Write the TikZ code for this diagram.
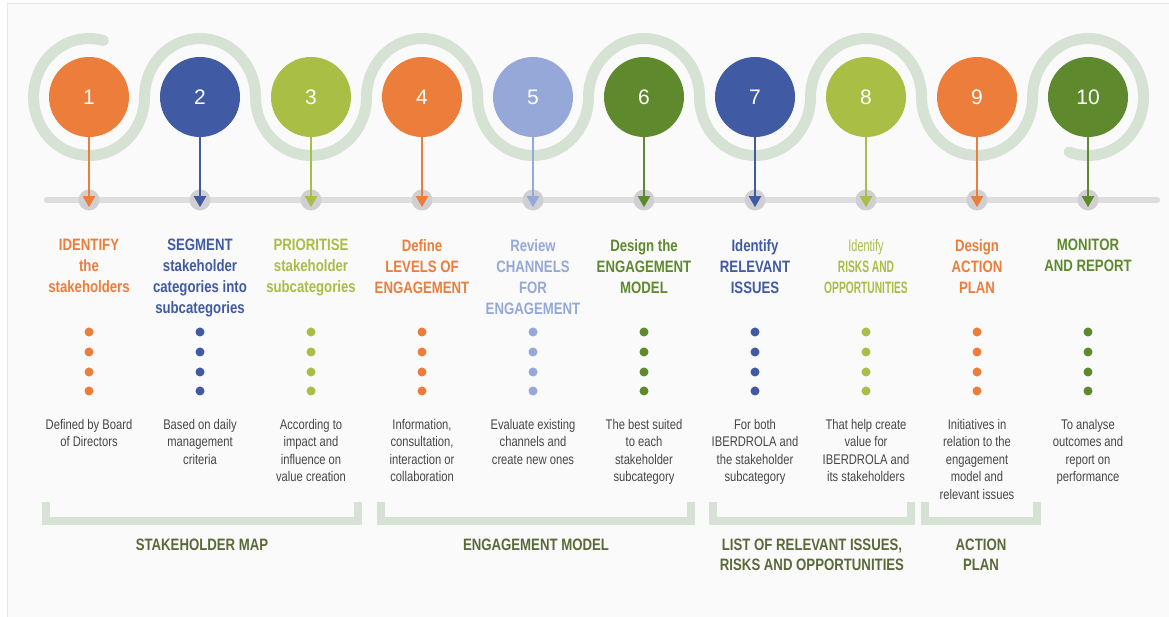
\documentclass[tikz,border=0pt]{standalone}
\usepackage{fontspec}
\setmainfont{Liberation Sans}
\newfontfamily\numfont{Liberation Sans}
\newfontfamily\condbold[FakeStretch=0.8]{Liberation Sans Bold}
\newfontfamily\condreg[FakeStretch=0.8]{Liberation Sans}
\newfontfamily\tightbold[FakeStretch=0.62]{Liberation Sans Bold}
\newfontfamily\tightreg[FakeStretch=0.66]{Liberation Sans}
\usepackage{xcolor}
\usepackage{tikz}
\usetikzlibrary{arrows.meta, positioning}
\definecolor{stepsorange}{RGB}{237,125,58}
\definecolor{stepsblue}{RGB}{64,90,163}
\definecolor{stepslime}{RGB}{168,190,68}
\definecolor{stepslilac}{RGB}{150,168,216}
\definecolor{stepsgreen}{RGB}{95,137,45}
\definecolor{bandsage}{RGB}{214,226,211}
\definecolor{axisgray}{RGB}{222,222,222}
\definecolor{halogray}{RGB}{208,208,212}
\definecolor{desctext}{RGB}{70,70,70}
\definecolor{mapolive}{RGB}{90,105,58}
\definecolor{bgpaper}{RGB}{250,250,250}

\tikzset{
  band/.style={line width=11pt, draw=bandsage, line cap=round},
  bracketline/.style={line width=8pt, draw=bandsage},
  stepcircle/.style={circle, minimum size=80pt, inner sep=0pt, text=white,
    font=\numfont\fontsize{21}{21}\selectfont},
  halo/.style={circle, fill=halogray, minimum size=21pt, inner sep=0pt},
  steparrow/.style={line width=2pt, -{Triangle[width=12pt,length=11pt]}, shorten >=3.5pt},
  desc/.style={align=center, anchor=north, inner sep=0pt, text=desctext,
    font=\condreg\fontsize{14}{17.5}\selectfont},
  maplabel/.style={align=center, anchor=north, inner sep=0pt, text=mapolive,
    font=\condbold\fontsize{16.5}{20}\selectfont}
}

\begin{document}
\begin{tikzpicture}[x=1pt, y=1pt]
  \useasboundingbox (0,0) rectangle (1169,617);
  % paper
  \fill[bgpaper] (7,0) rectangle (1169,614);
  \draw[gray!18, line width=0.8pt] (7,0) -- (7,614) -- (1169,614);

  % serpentine band
  \draw[band] (103.4,576.5) arc[start angle=75, end angle=360, x radius=55.5, y radius=58.5]
    \foreach \e in {0,360,0,360,0,360,0,360} {
      arc[start angle=180, end angle=\e, x radius=55.5, y radius=58.5]
    }
    arc[start angle=180, end angle=-110, x radius=55.5, y radius=58.5];

  % axis
  \coordinate (axisL) at (47,417);
  \coordinate (axisR) at (1157,417);
  \draw[axisgray, line width=6.5pt, line cap=round] (axisL) -- (axisR);

  % steps
  \foreach \i/\col/\hfont/\head/\txt in {
    1/stepsorange/\condbold/{IDENTIFY\\the\\stakeholders}/{Defined by Board\\of Directors},
    2/stepsblue/\condbold/{SEGMENT\\stakeholder\\categories into\\subcategories}/{Based on daily\\management\\criteria},
    3/stepslime/\condbold/{PRIORITISE\\stakeholder\\subcategories}/{According to\\impact and\\influence on\\value creation},
    4/stepsorange/\condbold/{Define\\LEVELS OF\\ENGAGEMENT}/{Information,\\consultation,\\interaction or\\collaboration},
    5/stepslilac/\condbold/{Review\\CHANNELS\\FOR\\ENGAGEMENT}/{Evaluate existing\\channels and\\create new ones},
    6/stepsgreen/\condbold/{Design the\\ENGAGEMENT\\MODEL}/{The best suited\\to each\\stakeholder\\subcategory},
    7/stepsblue/\condbold/{Identify\\RELEVANT\\ISSUES}/{For both\\IBERDROLA and\\the stakeholder\\subcategory},
    8/stepslime/\tightbold/{{\tightreg Identify}\\RISKS AND\\OPPORTUNITIES}/{That help create\\value for\\IBERDROLA and\\its stakeholders},
    9/stepsorange/\condbold/{Design\\ACTION\\PLAN}/{Initiatives in\\relation to the\\engagement\\model and\\relevant issues},
    10/stepsgreen/\condbold/{MONITOR\\AND REPORT}/{To analyse\\outcomes and\\report on\\performance}} {
    \pgfmathsetmacro\x{89+111*(\i-1)}
    \node[halo] (h\i) at (\x,417) {};
    \node[stepcircle, fill=\col] (c\i) at (\x,520) {\i};
    \draw[steparrow, draw=\col, fill=\col] (c\i.south) -- (h\i.south);
    \node[align=center, anchor=north, inner sep=0pt, text=\col,
      font=\hfont\fontsize{16.5}{21}\selectfont] (t\i) at (\x,378) {\head};
    \foreach \d in {285,265,245,226} {
      \fill[\col] (\x,\d) circle (4.5pt);
    }
    \node[desc] (d\i) at (\x,198) {\txt};
  }

  % groups
  \foreach \a/\b/\name/\lbl in {46/358/map/{STAKEHOLDER MAP}, 381/691/model/{ENGAGEMENT MODEL},
      713/911/issues/{LIST OF RELEVANT ISSUES,\\RISKS AND OPPORTUNITIES}, 925/1037/plan/{ACTION\\PLAN}} {
    \draw[bracketline] (\a,115) -- (\a,96) -- (\b,96) -- (\b,115);
    \node[maplabel] (\name) at ({(\a+\b)/2},78) {\lbl};
  }
\end{tikzpicture}
\end{document}
